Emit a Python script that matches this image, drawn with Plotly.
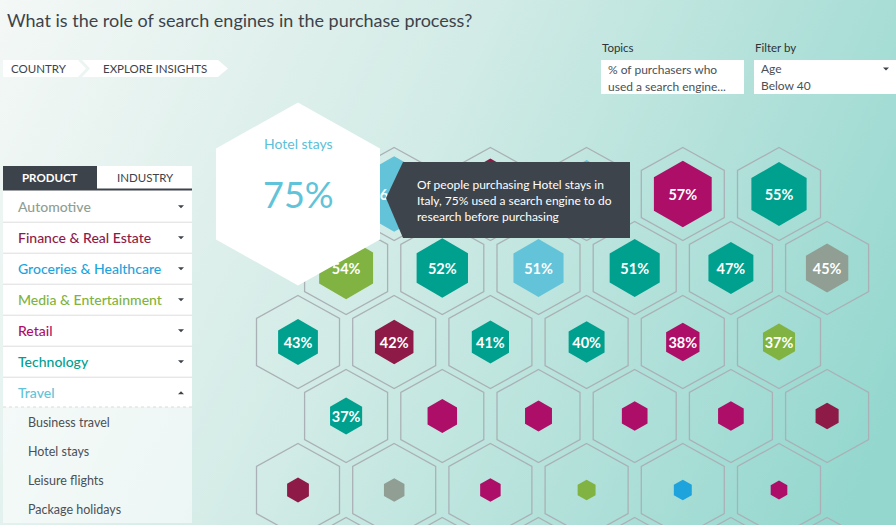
import base64
import plotly.graph_objects as go

W, H = 896, 525
FONT = "Lato"
DARK = "#3d434a"

# ---------------- data ----------------
title = "What is the role of search engines in the purchase process?"
country = "Italy"
industries = ["Automotive", "Finance & Real Estate", "Groceries & Healthcare",
              "Media & Entertainment", "Retail", "Technology", "Travel"]
industry_colors = ["#909e93", "#8e1a47", "#1ea3dc", "#80b341", "#ad0f68", "#00a08f", "#62c3d9"]
travel_products = ["Business travel", "Hotel stays", "Leisure flights", "Package holidays"]

# products sorted by share (%), laid out row by row in the honeycomb
values = [75, 63, 60, 58, 57, 55,
          54, 52, 51, 51, 47, 45,
          43, 42, 41, 40, 38, 37,
          37, 35, 33, 32, 32, 30,
          29, 28, 28, 26, 26, 25]
value_industry = ["Travel", "Travel", "Finance & Real Estate", "Travel", "Retail", "Technology",
                  "Media & Entertainment", "Technology", "Travel", "Technology", "Technology", "Automotive",
                  "Technology", "Finance & Real Estate", "Technology", "Technology", "Retail", "Media & Entertainment",
                  "Technology", "Retail", "Retail", "Retail", "Retail", "Finance & Real Estate",
                  "Finance & Real Estate", "Automotive", "Retail", "Media & Entertainment", "Groceries & Healthcare", "Retail"]
highlight_product = "Hotel stays"
highlight_value = 75
topic_lines = ["% of purchasers who", "used a search engine..."]
filter_lines = ["Age", "Below 40"]

# ---------------- layout constants ----------------
PER_ROW = 6
X0, DX, Y0, DY = 298.0, 96.2, 194.0, 74.0
N_ROWS_OUTLINE = 6


def cell_xy(i):
    r, c = divmod(i, PER_ROW)
    return X0 + c * DX + (DX / 2 if r % 2 == 1 else 0), Y0 + r * DY


def hex_path(cx, cy, hw, hh, side):
    pts = [(cx, cy - hh), (cx + hw, cy - side), (cx + hw, cy + side),
           (cx, cy + hh), (cx - hw, cy + side), (cx - hw, cy - side)]
    return "M " + " L ".join(f"{x:.1f},{y:.1f}" for x, y in pts) + " Z"


col_of = dict(zip(industries, industry_colors))

shapes = []
annotations = []


def txt(x, y, s, size=11, color=DARK, anchor="left", weight="normal", family=FONT):
    annotations.append(dict(x=x, y=y, xref="x", yref="y", text=s, showarrow=False,
                            xanchor=anchor, yanchor="middle", borderpad=0,
                            font=dict(family=family, size=size, color=color, weight=weight)))


# outline honeycomb
for i in range(N_ROWS_OUTLINE * PER_ROW):
    cx, cy = cell_xy(i)
    shapes.append(dict(type="path", xref="x", yref="y", layer="below",
                       path=hex_path(cx, cy, 41.5, 46.5, 23.5),
                       line=dict(color="#aab1b6", width=1.3), fillcolor="rgba(0,0,0,0)"))

# colored hexes
xs, ys = zip(*[cell_xy(i) for i in range(len(values))])
sizes = [1.485 * v - 17.9 for v in values]
colors = [col_of[k] for k in value_industry]
labels = [f"{v}%" if v >= 37 else "" for v in values]

fig = go.Figure()
fig.add_trace(go.Scatter(
    x=xs, y=ys, mode="markers",
    marker=dict(symbol="hexagon", size=sizes, color=colors, opacity=1, line=dict(width=0)),
    hoverinfo="skip", showlegend=False, cliponaxis=False))
fig.add_trace(go.Scatter(
    x=xs, y=[y + 2 for y in ys], mode="text", text=labels, textposition="middle center",
    textfont=dict(family=FONT, size=14.5, color="white", weight="bold"),
    hoverinfo="skip", showlegend=False, cliponaxis=False))

# big hover hexagon for highlighted product
hx, hy = cell_xy(values.index(highlight_value))
shapes.append(dict(type="path", xref="x", yref="y", layer="above",
                   path=hex_path(hx, hy, 82, 91.5, 45.5),
                   line=dict(width=0), fillcolor="white"))
txt(hx, hy - 51, highlight_product, size=14, color="#5bc0d8", anchor="center")
txt(hx, hy, f"{highlight_value}%", size=36, color="#5fc3da", anchor="center")

# tooltip
shapes.append(dict(type="path", xref="x", yref="y", layer="above",
                   path="M 403,162 L 630,162 L 630,238 L 403,238 L 386,198 Z",
                   line=dict(width=0), fillcolor="#3e444b"))
tip = [f"Of people purchasing {highlight_product} in",
       f"{country}, {highlight_value}% used a search engine to do",
       "research before purchasing"]
for j, line in enumerate(tip):
    txt(416, 184 + 16 * j, line, size=12, color="white")

# title
txt(6, 20, title, size=18, color=DARK)

# breadcrumb
shapes.append(dict(type="path", xref="x", yref="y", layer="above",
                   path="M 3,60 L 78,60 L 86,68.5 L 78,77 L 3,77 Z",
                   line=dict(width=0), fillcolor="white"))
shapes.append(dict(type="path", xref="x", yref="y", layer="above",
                   path="M 82,60 L 218,60 L 228,68.5 L 218,77 L 82,77 L 90,68.5 Z",
                   line=dict(width=0), fillcolor="white"))
txt(39, 68.5, "COUNTRY", size=11.5, anchor="center")
txt(155, 68.5, "EXPLORE INSIGHTS", size=11.5, anchor="center")

# topics / filter
txt(601, 47, "Topics", size=11.5, color="#2d3338")
txt(754, 47, "Filter by", size=11.5, color="#2d3338")
for x0, x1 in [(601, 744), (754, 896)]:
    shapes.append(dict(type="rect", xref="x", yref="y", layer="above",
                       x0=x0, x1=x1, y0=60, y1=94, line=dict(width=0), fillcolor="white"))
for j, line in enumerate(topic_lines):
    txt(607, 69 + 17 * j, line, size=12, color="#4a5056")
for j, line in enumerate(filter_lines):
    txt(760, 68 + 17 * j, line, size=12, color="#4a5056")
shapes.append(dict(type="path", xref="x", yref="y", layer="above",
                   path="M 883,67.5 L 889,67.5 L 886,70.5 Z", line=dict(width=0), fillcolor=DARK))

# left menu
shapes.append(dict(type="rect", xref="x", yref="y", layer="above",
                   x0=3, x1=97, y0=166, y1=189, line=dict(width=0), fillcolor=DARK))
shapes.append(dict(type="rect", xref="x", yref="y", layer="above",
                   x0=97, x1=192, y0=166, y1=189, line=dict(width=0), fillcolor="white"))
txt(50, 177.5, "PRODUCT", size=11.5, color="white", anchor="center", weight="bold")
txt(145, 177.5, "INDUSTRY", size=11.5, color=DARK, anchor="center")
shapes.append(dict(type="rect", xref="x", yref="y", layer="above",
                   x0=3, x1=192, y0=189, y1=407, line=dict(width=0), fillcolor="white"))
shapes.append(dict(type="line", xref="x", yref="y", layer="above",
                   x0=3, x1=192, y0=189.5, y1=189.5, line=dict(color=DARK, width=2)))
ROW_H = 31
for k, (name, c) in enumerate(zip(industries, industry_colors)):
    yc = 206.7 + k * ROW_H
    txt(17, yc, name, size=14, color=c, weight=500)
    if name == "Travel":
        tri = f"M 178,{yc + 1.5:.1f} L 184,{yc + 1.5:.1f} L 181,{yc - 1.5:.1f} Z"
    else:
        tri = f"M 178,{yc - 1.5:.1f} L 184,{yc - 1.5:.1f} L 181,{yc + 1.5:.1f} Z"
    shapes.append(dict(type="path", xref="x", yref="y", layer="above", path=tri,
                       line=dict(width=0), fillcolor=DARK))
    if k < len(industries) - 1:
        shapes.append(dict(type="line", xref="x", yref="y", layer="above",
                           x0=3, x1=192, y0=yc + 15.5, y1=yc + 15.5,
                           line=dict(color="#dddddd", width=1)))

shapes.append(dict(type="rect", xref="x", yref="y", layer="above",
                   x0=3, x1=192, y0=407, y1=523, line=dict(width=0),
                   fillcolor="rgba(255,255,255,0.55)"))
shapes.append(dict(type="line", xref="x", yref="y", layer="above",
                   x0=3, x1=192, y0=407, y1=407, line=dict(color="#d5dcda", width=1, dash="dot")))
for j, p in enumerate(travel_products):
    txt(27, 422 + 29 * j, p, size=12.5, color="#4a5056")

# background gradient
svg = (f'<svg xmlns="http://www.w3.org/2000/svg" width="{W}" height="{H}">'
       f'<defs><linearGradient id="g" x1="0" y1="0" x2="{W}" y2="{H * 0.8:.0f}" gradientUnits="userSpaceOnUse">'
       '<stop offset="0" stop-color="#f4f8f6"/><stop offset="0.45" stop-color="#d2ebe6"/>'
       '<stop offset="1" stop-color="#93d7ce"/></linearGradient></defs>'
       f'<rect width="{W}" height="{H}" fill="url(#g)"/></svg>')
src = "data:image/svg+xml;base64," + base64.b64encode(svg.encode()).decode()

fig.update_layout(
    width=W, height=H, margin=dict(l=0, r=0, t=0, b=0),
    paper_bgcolor="#d6ece7", plot_bgcolor="rgba(0,0,0,0)",
    xaxis=dict(range=[0, W], visible=False, fixedrange=True),
    yaxis=dict(range=[H, 0], visible=False, fixedrange=True),
    shapes=shapes, annotations=annotations,
    images=[dict(source=src, xref="paper", yref="paper", x=0, y=1, sizex=1, sizey=1,
                 xanchor="left", yanchor="top", sizing="stretch", layer="below")],
    showlegend=False,
)

fig.write_html("out.html", config={"displayModeBar": False},
               post_script="document.body.style.margin='0';document.body.style.overflow='hidden';")
